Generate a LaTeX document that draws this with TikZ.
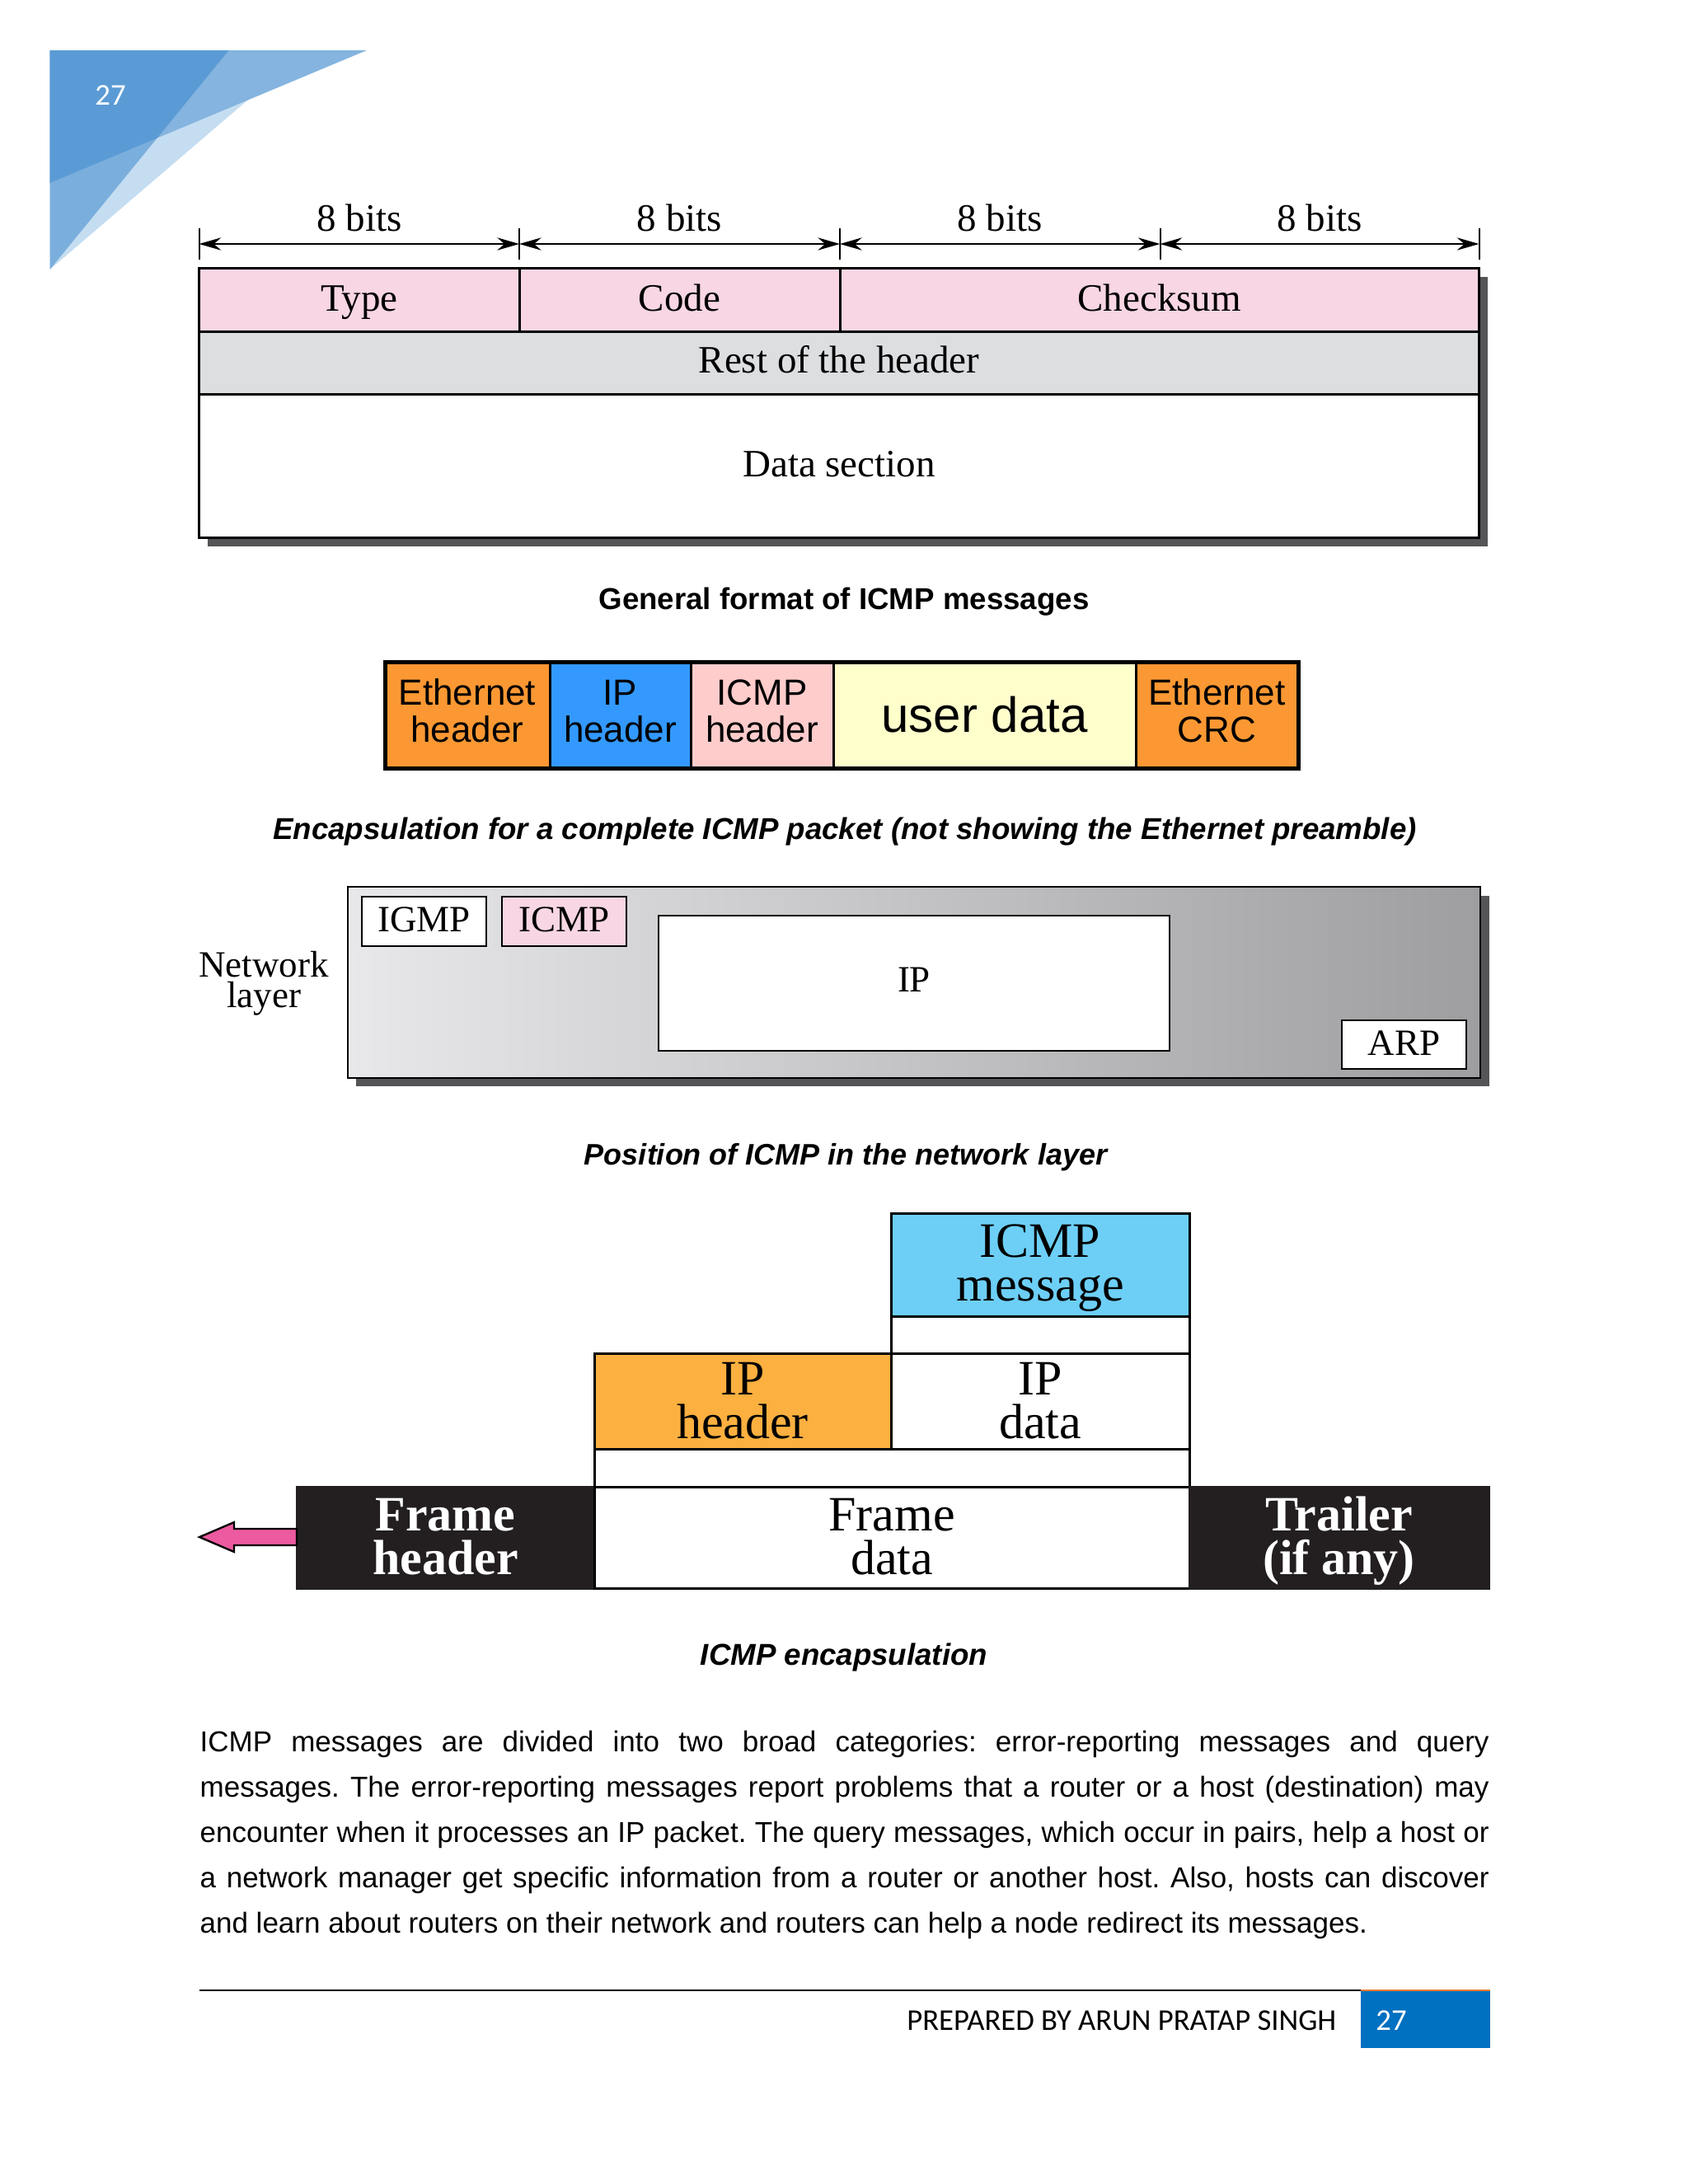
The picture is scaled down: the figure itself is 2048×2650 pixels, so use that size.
\documentclass[tikz,border=0pt]{standalone}
\usepackage{fontspec}
\setmainfont{Liberation Serif}
\newfontfamily\arialf{Liberation Sans}
\newfontfamily\calf{Carlito}
\usetikzlibrary{arrows.meta,fit}
\definecolor{decoA}{RGB}{132,180,223}
\definecolor{decoB}{RGB}{122,174,221}
\definecolor{decoC}{RGB}{197,221,241}
\definecolor{decoD}{RGB}{91,155,213}
\definecolor{pinkA}{RGB}{248,214,227}
\definecolor{greyA}{RGB}{221,222,224}
\definecolor{shadowc}{RGB}{85,85,87}
\definecolor{ethor}{RGB}{251,152,51}
\definecolor{ipblue}{RGB}{51,153,255}
\definecolor{icmppink}{RGB}{255,204,204}
\definecolor{useryel}{RGB}{255,255,204}
\definecolor{msgblue}{RGB}{109,207,246}
\definecolor{hdror}{RGB}{251,176,64}
\definecolor{frblack}{RGB}{35,31,32}
\definecolor{arrpink}{RGB}{236,90,160}
\definecolor{footblue}{RGB}{0,112,192}
\definecolor{footor}{RGB}{237,125,49}
\definecolor{lgL}{RGB}{232,232,234}
\definecolor{lgM}{RGB}{216,217,219}
\definecolor{lgR}{RGB}{158,158,160}
\frenchspacing
% two centred lines; baseline of the box = baseline of the first line
\newcommand\stacktwo[3]{\vtop{\baselineskip=#3\lineskiplimit=-100pt\lineskip=0pt\halign{\hfil##\hfil\cr #1\cr #2\cr}}}
\begin{document}
\begin{tikzpicture}[x=0.3pt,y=-0.3pt,
  cell/.style={draw=black, line width=0.9pt, inner sep=0pt, outer sep=0pt},
  thincell/.style={draw=black, line width=0.7pt, inner sep=0pt, outer sep=0pt},
  dimarrow/.style={line width=0.6pt, {Stealth[length=8pt,width=4.6pt]}-{Stealth[length=8pt,width=4.6pt]}},
  tick/.style={line width=0.6pt},
  txt/.style={anchor=base, inner sep=0pt},
  fontA/.style={txt, font=\fontsize{14.1}{17}\selectfont},
  fontB/.style={txt, font=\arialf\fontsize{13.2}{13}\selectfont},
  fontC/.style={txt, font=\fontsize{13.5}{13}\selectfont},
  fontD/.style={txt, font=\fontsize{18}{18}\selectfont},
  fontDb/.style={txt, font=\bfseries\fontsize{18}{18}\selectfont, text=white},
  capbf/.style={font=\arialf\bfseries\fontsize{11}{13}\selectfont},
  capbi/.style={font=\arialf\bfseries\itshape\fontsize{11}{13}\selectfont},
  bodyl/.style={anchor=base west, inner sep=0pt, font=\arialf\fontsize{10.5}{12}\selectfont}
]
\useasboundingbox (0,0) rectangle (2048,2650);
\fill[white] (0,0) rectangle (2048,2650);

% corner decoration
\fill[decoC] (60.5,61) -- (371,61) -- (60.5,327) -- cycle;
\fill[decoA] (60.5,61) -- (445,61) -- (60.5,222) -- cycle;
\fill[decoB] (60.5,61) -- (277.5,61) -- (60.5,327) -- cycle;
\fill[decoD] (60.5,61) -- (277.5,61) -- (190.7,167.5) -- (60.5,222) -- cycle;
\node[font=\calf\fontsize{11}{13}\selectfont, text=white] (pgtop) at (134,116) {27};

% ---------- Diagram 1 ----------
\coordinate (t0) at (241.5,296);
\coordinate (t1) at (630,296);
\coordinate (t2) at (1019,296);
\coordinate (t3) at (1407.5,296);
\coordinate (t4) at (1794.5,296);
\foreach \c in {t0,t1,t2,t3,t4} \draw[tick] ([yshift=5.7pt]\c) -- ([yshift=-5.7pt]\c);
\draw[dimarrow] (t0) -- (t1);
\draw[dimarrow] (t1) -- (t2);
\draw[dimarrow] (t2) -- (t3);
\draw[dimarrow] (t3) -- (t4);
\node[fontA] (b0) at (436,280) {8 bits};
\node[fontA] (b1) at (824.5,280) {8 bits};
\node[fontA] (b2) at (1213,280) {8 bits};
\node[fontA] (b3) at (1601,280) {8 bits};
\fill[shadowc] (251.5,336) rectangle (1804.5,663);
\node[cell, fill=pinkA, fit={(241.5,325) (630,402)}] (type) {};
\node[cell, fill=pinkA, fit={(630,325) (1019,402)}] (code) {};
\node[cell, fill=pinkA, fit={(1019,325) (1794.5,402)}] (chk) {};
\node[cell, fill=greyA, fit={(241.5,402) (1794.5,478)}] (rest) {};
\node[cell, fill=white, fit={(241.5,478) (1794.5,652)}] (data) {};
\node[fontA] (typeT) at (435.75,377) {Type};
\node[fontA] (codeT) at (824.5,377) {Code};
\node[fontA] (chkT) at (1406.75,377) {Checksum};
\node[fontA] (restT) at (1018,452) {Rest of the header};
\node[fontA] (dataT) at (1018,578) {Data section};
\node[capbf] (cap1) at (1024,730) {General format of ICMP messages};

% ---------- Diagram 2 ----------
\node[cell, fill=ethor, fit={(467,803) (667,932)}] (eth) {};
\node[cell, fill=ipblue, fit={(667,803) (838,932)}] (iph) {};
\node[cell, fill=icmppink, fit={(838,803) (1011,932)}] (icmph) {};
\node[cell, fill=useryel, fit={(1011,803) (1378,932)}] (user) {};
\node[cell, fill=ethor, fit={(1378,803) (1575,932)}] (crc) {};
\draw[line width=1.5pt] (eth.north west) rectangle (crc.south east);
\node[fontB] (ethT) at (567,855) {\stacktwo{Ethernet}{header}{13.5pt}};
\node[fontB] (iphT) at (752.5,855) {\stacktwo{IP}{header}{13.5pt}};
\node[fontB] (icmphT) at (924.5,855) {\stacktwo{ICMP}{header}{13.5pt}};
\node[txt, font=\arialf\fontsize{18}{20}\selectfont] (userT) at (1194.5,888) {user data};
\node[fontB] (crcT) at (1476.5,855) {\stacktwo{Ethernet}{CRC}{13.5pt}};
\node[capbi] (cap2) at (1025,1009) {Encapsulation for a complete ICMP packet (not showing the Ethernet preamble)};

% ---------- Diagram 3 ----------
\fill[shadowc] (432,1087) rectangle (1807,1318);
\shade[left color=lgL, middle color=lgM, right color=lgR] (422,1076) rectangle (1796,1308);
\node[thincell, fit={(422,1076) (1796,1308)}] (netlayer) {};
\node[thincell, fill=white, fit={(439,1088) (590,1148)}] (igmp) {};
\node[thincell, fill=pinkA, fit={(609,1088) (760,1148)}] (icmp3) {};
\node[thincell, fill=white, fit={(799,1111) (1419,1275)}] (ip3) {};
\node[thincell, fill=white, fit={(1628,1238) (1779,1297)}] (arp) {};
\node[fontC] (igmpT) at (514.5,1130) {IGMP};
\node[fontC] (icmp3T) at (684.5,1130) {ICMP};
\node[fontC] (ip3T) at (1109,1203) {IP};
\node[fontC] (arpT) at (1703.5,1280) {ARP};
\node[fontC] (netT) at (320,1185) {\stacktwo{Network}{layer}{11.1pt}};
\node[capbi, font=\arialf\bfseries\itshape\fontsize{10.8}{13}\selectfont] (cap3) at (1026,1404) {Position of ICMP in the network layer};

% ---------- Diagram 4 ----------
\node[cell, fill=msgblue, fit={(1081,1472) (1443,1597)}] (msg) {};
\node[cell, fill=white, fit={(1081,1597) (1443,1642)}] (msggap) {};
\node[cell, fill=hdror, fit={(721,1642) (1081,1758)}] (iphdr) {};
\node[cell, fill=white, fit={(1081,1642) (1443,1758)}] (ipdata) {};
\node[cell, fill=white, fit={(721,1758) (1443,1804)}] (ipgap) {};
\node[cell, fill=frblack, draw=frblack, fit={(360,1804) (721,1927)}] (frhdr) {};
\node[cell, fill=white, fit={(721,1804) (1443,1927)}] (frdata) {};
\node[cell, fill=frblack, draw=frblack, fit={(1443,1804) (1806,1927)}] (trailer) {};
\node[fontD] (msgT) at (1262,1525) {\stacktwo{ICMP}{message}{15.9pt}};
\node[fontD] (iphdrT) at (901,1692) {\stacktwo{IP}{header}{15.9pt}};
\node[fontD] (ipdataT) at (1262,1692) {\stacktwo{IP}{data}{15.9pt}};
\node[fontDb] (frhdrT) at (540.5,1857) {\stacktwo{Frame}{header}{15.9pt}};
\node[fontD] (frdataT) at (1082,1857) {\stacktwo{Frame}{data}{15.9pt}};
\node[fontDb] (trailerT) at (1624.5,1857) {\stacktwo{Trailer}{(if any)}{15.9pt}};
\draw[fill=arrpink, line width=0.7pt, line join=miter]
  (242,1865) -- (284,1847) -- (284,1855) -- (frhdr.west |- 0,1855) -- (frhdr.west |- 0,1875) -- (284,1875) -- (284,1883) -- cycle;
\node[capbi] (cap4) at (1024,2011) {ICMP encapsulation};

% ---------- Body text ----------
\node[bodyl] (l1) at (242,2125) {\makebox[469.2pt][s]{ICMP messages are divided into two broad categories: error-reporting messages and query}};
\node[bodyl] (l2) at (242,2180) {\makebox[469.2pt][s]{messages. The error-reporting messages report problems that a router or a host (destination) may}};
\node[bodyl] (l3) at (242,2235) {\makebox[469.2pt][s]{encounter when it processes an IP packet. The query messages, which occur in pairs, help a host or}};
\node[bodyl] (l4) at (242,2290) {\makebox[469.2pt][s]{a network manager get specific information from a router or another host. Also, hosts can discover}};
\node[bodyl] (l5) at (242,2345) {and learn about routers on their network and routers can help a node redirect its messages.};

% ---------- Footer ----------
\fill[footblue] (1651,2415) rectangle (1808,2485);
\draw[line width=0.6pt] (242,2415) -- (1651,2415);
\draw[footor, line width=0.6pt] (1651,2415) -- (1808,2415);
\node[font=\calf\fontsize{11}{13}\selectfont, anchor=east] (prep) at (1633,2452) {PREPARED BY ARUN PRATAP SINGH};
\node[font=\calf\fontsize{11}{13}\selectfont, text=white] (pgbot) at (1688,2452) {27};
\end{tikzpicture}
\end{document}
